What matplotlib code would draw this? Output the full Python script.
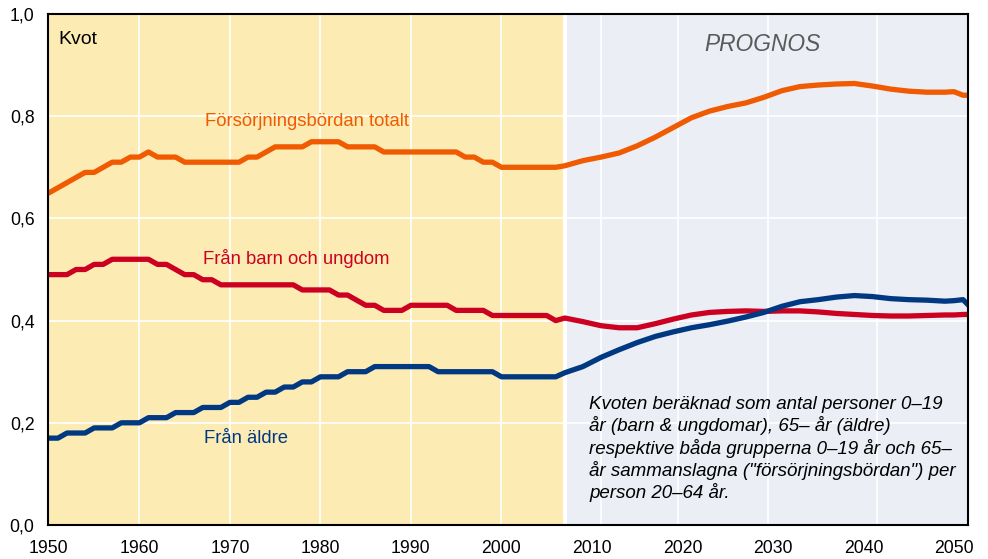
import matplotlib
matplotlib.use("Agg")
from matplotlib import pyplot as plt

# yearly statistics 1950-2006
hist_years = list(range(1950, 2007))
total_hist = [0.65, 0.66, 0.67, 0.68, 0.69, 0.69, 0.70, 0.71, 0.71, 0.72,
              0.72, 0.73, 0.72, 0.72, 0.72, 0.71, 0.71, 0.71, 0.71, 0.71,
              0.71, 0.71, 0.72, 0.72, 0.73, 0.74, 0.74, 0.74, 0.74, 0.75,
              0.75, 0.75, 0.75, 0.74, 0.74, 0.74, 0.74, 0.73, 0.73, 0.73,
              0.73, 0.73, 0.73, 0.73, 0.73, 0.73, 0.72, 0.72, 0.71, 0.71,
              0.70, 0.70, 0.70, 0.70, 0.70, 0.70, 0.70]
young_hist = [0.49, 0.49, 0.49, 0.50, 0.50, 0.51, 0.51, 0.52, 0.52, 0.52,
              0.52, 0.52, 0.51, 0.51, 0.50, 0.49, 0.49, 0.48, 0.48, 0.47,
              0.47, 0.47, 0.47, 0.47, 0.47, 0.47, 0.47, 0.47, 0.46, 0.46,
              0.46, 0.46, 0.45, 0.45, 0.44, 0.43, 0.43, 0.42, 0.42, 0.42,
              0.43, 0.43, 0.43, 0.43, 0.43, 0.42, 0.42, 0.42, 0.42, 0.41,
              0.41, 0.41, 0.41, 0.41, 0.41, 0.41, 0.40]
old_hist = [0.17, 0.17, 0.18, 0.18, 0.18, 0.19, 0.19, 0.19, 0.20, 0.20,
            0.20, 0.21, 0.21, 0.21, 0.22, 0.22, 0.22, 0.23, 0.23, 0.23,
            0.24, 0.24, 0.25, 0.25, 0.26, 0.26, 0.27, 0.27, 0.28, 0.28,
            0.29, 0.29, 0.29, 0.30, 0.30, 0.30, 0.31, 0.31, 0.31, 0.31,
            0.31, 0.31, 0.31, 0.30, 0.30, 0.30, 0.30, 0.30, 0.30, 0.30,
            0.29, 0.29, 0.29, 0.29, 0.29, 0.29, 0.29]

# prognosis (runs to the right edge)
prog_years = [2007, 2009, 2011, 2013, 2015, 2017, 2019, 2021, 2023, 2025,
              2027, 2029, 2031, 2033, 2035, 2037, 2039, 2041, 2043, 2045,
              2047, 2049, 2050, 2051, 2051.5]
total_prog = [0.703, 0.713, 0.720, 0.728, 0.742, 0.759, 0.778, 0.797, 0.810, 0.819,
              0.826, 0.837, 0.850, 0.858, 0.861, 0.863, 0.864, 0.859, 0.853, 0.849,
              0.847, 0.847, 0.848, 0.841, 0.841]
young_prog = [0.405, 0.398, 0.390, 0.386, 0.386, 0.394, 0.403, 0.411, 0.416, 0.418,
              0.419, 0.418, 0.419, 0.419, 0.417, 0.414, 0.412, 0.410, 0.409, 0.409,
              0.410, 0.411, 0.411, 0.412, 0.412]
old_prog = [0.298, 0.310, 0.328, 0.343, 0.357, 0.369, 0.378, 0.386, 0.392, 0.399,
            0.407, 0.416, 0.428, 0.437, 0.441, 0.446, 0.449, 0.447, 0.443, 0.441,
            0.440, 0.438, 0.439, 0.441, 0.432]

x_ticks = [1950, 1960, 1970, 1980, 1990, 2000, 2010, 2020, 2030, 2040, 2050]
y_ticks = [0.0, 0.2, 0.4, 0.6, 0.8, 1.0]
# vertical grid lines sit a bit unevenly in the original
grid_x = [1960, 1970, 1980, 1990, 2000, 2011, 2019.5, 2029.5, 2041.5]

note = ["Kvoten beräknad som antal personer 0\u201319",
        "år (barn & ungdomar), 65\u2013 år (äldre)",
        "respektive båda grupperna 0\u201319 år och 65\u2013",
        "år sammanslagna (\"försörjningsbördan\") per",
        "person 20\u201364 år."]

plt.rcParams['font.family'] = ['Liberation Sans', 'DejaVu Sans']

ORANGE = '#F05A00'
RED = '#CC0020'
BLUE = '#003882'

fig = plt.figure(figsize=(9.88, 5.59), dpi=100)
ax = fig.add_axes([48 / 988, 1 - 525 / 559, 920 / 988, 511 / 559])
ax.set_facecolor('white')
x0, x1 = 1949.9, 2051.55
ax.set_xlim(x0, x1)
ax.set_ylim(0, 1.0)

# history / prognosis backgrounds with a thin white gap between
ax.axvspan(x0, 2006.75, color='#FCECB4', lw=0, zorder=0)
ax.axvspan(2007.2, x1, color='#EBEEF5', lw=0, zorder=0)

for gx in grid_x:
    ax.axvline(gx, color='white', lw=1.2, zorder=1)
for gy in y_ticks[1:-1]:
    ax.axhline(gy, color='white', lw=1.2, zorder=1)

ax.plot(hist_years + prog_years, total_hist + total_prog, color=ORANGE, lw=3.8,
        solid_joinstyle='round', zorder=3)
ax.plot(hist_years + prog_years, young_hist + young_prog, color=RED, lw=3.8,
        solid_joinstyle='round', zorder=3)
ax.plot(hist_years + prog_years, old_hist + old_prog, color=BLUE, lw=3.8,
        solid_joinstyle='round', zorder=4)

ax.set_xticks(x_ticks)
ax.set_xticklabels([str(x) for x in x_ticks])
ax.set_yticks(y_ticks)
ax.set_yticklabels([f"{y:.1f}".replace('.', ',') for y in y_ticks])
ax.tick_params(axis='x', length=0, pad=11, labelsize=12.7)
ax.tick_params(axis='y', length=0, pad=9.8, labelsize=12.7)
ax.grid(False)
for s in ax.spines.values():
    s.set_linewidth(1.5)
    s.set_color('black')
    s.set_zorder(5)

ax.text(1951.0, 0.951, "Kvot", fontsize=14, va='center', ha='left')
ax.text(2028.8, 0.941, "PROGNOS", fontsize=16.4, style='italic', color='#5A5A5A',
        va='center', ha='center')
ax.text(1967.2, 0.789, "Försörjningsbördan totalt", fontsize=13.3, color=ORANGE,
        va='center', ha='left')
ax.text(1967.0, 0.521, "Från barn och ungdom", fontsize=13.3, color=RED,
        va='center', ha='left')
ax.text(1967.1, 0.170, "Från äldre", fontsize=13.3, color=BLUE,
        va='center', ha='left')

for i, line in enumerate(note):
    ax.text(2009.7, 0.2264 - i * 0.0433, line, fontsize=13.5, style='italic',
            va='baseline', ha='left')

plt.savefig('out.png', dpi=100)
plt.close()
